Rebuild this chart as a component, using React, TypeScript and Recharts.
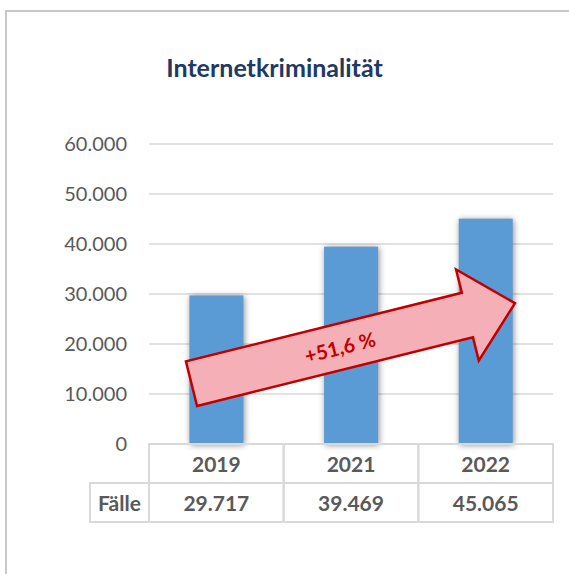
import { Bar, BarChart, CartesianGrid, ReferenceLine, XAxis, YAxis } from "recharts";

const years = ["2019", "2021", "2022"];
const cases = [29717, 39469, 45065];
const yTicks = [0, 10000, 20000, 30000, 40000, 50000, 60000];
const rowLabel = "Fälle";
const title = "Internetkriminalität";
const growthLabel = "+51,6 %";
// arrow annotation anchored at the first and last category (value units)
const arrowFrom = 13300;
const arrowTo = 26700;

const data = years.map((year, i) => ({ year, cases: cases[i] }));

const W = 560;
const H = 560;
const PLOT_LEFT = 142;
const PLOT_RIGHT = 14;
const BAND = (W - PLOT_LEFT - PLOT_RIGHT) / years.length;
const FONT = "Lato, 'Open Sans', sans-serif";
const GREY = "#595959";
const LINE = "#d9d9d9";

const fmt = (v: number) => String(v).replace(/\B(?=(\d{3})+(?!\d))/g, ".");

function TableTick(props: any) {
  const { x, y, payload, index } = props;
  const left = x - BAND / 2;
  const rowH = 39;
  return (
    <g>
      <rect x={left} y={y} width={BAND} height={rowH} fill="none" stroke={LINE} strokeWidth={2} />
      <rect x={left} y={y + rowH} width={BAND} height={rowH} fill="none" stroke={LINE} strokeWidth={2} />
      {index === 0 && (
        <>
          <rect x={left - 59} y={y + rowH} width={59} height={rowH} fill="none" stroke={LINE} strokeWidth={2} />
          <text x={left - 29.5} y={y + rowH * 1.5} textAnchor="middle" dominantBaseline="central"
            fontSize={21} fontWeight={700} fill={GREY} fontFamily={FONT}>{rowLabel}</text>
        </>
      )}
      <text x={x} y={y + rowH / 2} textAnchor="middle" dominantBaseline="central"
        fontSize={21} fontWeight={700} fill={GREY} fontFamily={FONT}>{payload.value}</text>
      <text x={x} y={y + rowH * 1.5} textAnchor="middle" dominantBaseline="central"
        fontSize={21} fontWeight={700} fill={GREY} fontFamily={FONT}>{fmt(cases[index])}</text>
    </g>
  );
}

function ShadowBar(props: any) {
  const { x, y, width, height, fill } = props;
  return (
    <rect x={x} y={y} width={width} height={height} fill={fill}
      style={{ filter: "drop-shadow(1px 1px 3px rgba(0,0,0,0.45))" }} />
  );
}

function Arrow(props: any) {
  const { x1, y1, x2, y2 } = props;
  const len = Math.hypot(x2 - x1, y2 - y1);
  const ux = (x2 - x1) / len;
  const uy = (y2 - y1) / len;
  const nx = -uy;
  const ny = ux;
  const tail = [x1 - ux * 25.6, y1 - uy * 25.6];
  const tip = [x2 + ux * 30.2, y2 + uy * 30.2];
  const base = [tip[0] - ux * 49, tip[1] - uy * 49];
  const h = 23;
  const hh = 47;
  const pts = [
    [tail[0] + nx * h, tail[1] + ny * h],
    [base[0] + nx * h, base[1] + ny * h],
    [base[0] + nx * hh, base[1] + ny * hh],
    tip,
    [base[0] - nx * hh, base[1] - ny * hh],
    [base[0] - nx * h, base[1] - ny * h],
    [tail[0] - nx * h, tail[1] - ny * h],
  ];
  const angle = (Math.atan2(uy, ux) * 180) / Math.PI;
  const tx = tail[0] + ux * 153;
  const ty = tail[1] + uy * 153;
  return (
    <g>
      <polygon points={pts.map((p) => p.join(",")).join(" ")} fill="#f5afb6" stroke="#c00000"
        strokeWidth={2.5} strokeLinejoin="miter" />
      <text x={tx} y={ty} textAnchor="middle" dominantBaseline="central" fontSize={20} fontWeight={700}
        fill="#c00000" fontFamily={FONT} transform={`rotate(${angle} ${tx} ${ty})`}>{growthLabel}</text>
    </g>
  );
}

export default function App() {
  return (
    <div style={{ position: "fixed", inset: 0, overflow: "hidden", background: "#fff" }}>
      <div style={{ position: "absolute", left: 5, top: 10, width: 600, height: 600, border: "2px solid #c8c8c8" }}>
        <div style={{ position: "absolute", left: 0, width: 535, top: 40, textAlign: "center",
          fontFamily: FONT, fontWeight: 700, fontSize: 25, color: "#203864" }}>{title}</div>
        <div style={{ position: "absolute", left: 0, top: 0 }}>
          <BarChart width={W} height={H} data={data} barCategoryGap="30%"
            margin={{ top: 132, right: PLOT_RIGHT, bottom: 48, left: 0 }}>
            <CartesianGrid vertical={false} stroke={LINE} strokeWidth={1.5} />
            <XAxis dataKey="year" axisLine={false} tickLine={false} tickSize={0} tickMargin={0}
              height={80} interval={0} tick={<TableTick />} />
            <YAxis domain={[0, 60000]} ticks={yTicks} width={PLOT_LEFT} axisLine={false} tickLine={false}
              tickSize={0} tickMargin={22} tickFormatter={fmt}
              tick={{ fill: GREY, fontSize: 20, fontFamily: FONT }} />
            <Bar dataKey="cases" fill="#5b9bd5" isAnimationActive={false} shape={<ShadowBar />} />
            <ReferenceLine segment={[{ x: years[0], y: arrowFrom }, { x: years[years.length - 1], y: arrowTo }]}
              shape={<Arrow />} ifOverflow="visible" />
          </BarChart>
        </div>
      </div>
    </div>
  );
}
